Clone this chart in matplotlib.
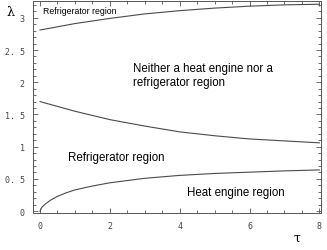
import matplotlib
matplotlib.use("Agg")
import matplotlib.pyplot as plt
import numpy as np
from matplotlib.ticker import MultipleLocator, FixedFormatter, FixedLocator

# Data
tau_top = [0, 1, 2, 3, 4, 5, 6, 7, 8]
lam_top = [2.81, 2.91, 2.99, 3.06, 3.11, 3.15, 3.18, 3.20, 3.21]

tau_mid = [0, 1, 2, 3, 4, 5, 6, 7, 8]
lam_mid = [1.70, 1.55, 1.42, 1.32, 1.23, 1.17, 1.12, 1.09, 1.06]

tau_bot = [0, 0.05, 0.15, 0.3, 0.5, 0.75, 1, 1.5, 2, 3, 4, 5, 6, 7, 8]
lam_bot = [0, 0.06, 0.11, 0.17, 0.23, 0.285, 0.33, 0.39, 0.44, 0.51, 0.555, 0.585, 0.605, 0.625, 0.64]

xticks = [0, 2, 4, 6, 8]
xticklabels = ["0", "2", "4", "6", "8"]
yticks = [0, 0.5, 1, 1.5, 2, 2.5, 3]
yticklabels = ["0", "0. 5", "1", "1. 5", "2", "2. 5", "3"]

fig = plt.figure(figsize=(3.27, 2.51), dpi=100)
ax = fig.add_axes([0.101, 0.147, 0.881, 0.845])

lc = "#4a4a4a"
for x, y in [(tau_top, lam_top), (tau_mid, lam_mid), (tau_bot, lam_bot)]:
    ax.plot(x, y, color=lc, lw=0.8)

ax.set_xlim(-0.2, 8.05)
ax.set_ylim(-0.03, 3.26)

ax.xaxis.set_major_locator(FixedLocator(xticks))
ax.xaxis.set_major_formatter(FixedFormatter(xticklabels))
ax.xaxis.set_minor_locator(MultipleLocator(0.5))
ax.yaxis.set_major_locator(FixedLocator(yticks))
ax.yaxis.set_major_formatter(FixedFormatter(yticklabels))
ax.yaxis.set_minor_locator(MultipleLocator(0.1))

ax.tick_params(which="both", direction="in", top=True, right=True,
               color="#555555", width=0.6)
ax.tick_params(which="major", length=3.5, labelsize=6, pad=6)
ax.tick_params(which="minor", length=2)
for lab in ax.get_xticklabels() + ax.get_yticklabels():
    lab.set_family("DejaVu Sans Mono")
    lab.set_color("#444444")

for s in ax.spines.values():
    s.set_color("#555555")
    s.set_linewidth(0.7)

tf = "Liberation Sans"
ax.text(0.08, 3.115, "Refrigerator region", fontsize=6.3, family=tf, va="center")
ax.text(2.65, 2.11, "Neither a heat engine nor a\nrefrigerator region",
        fontsize=8.3, family=tf, va="center", linespacing=1.2)
ax.text(0.8, 0.84, "Refrigerator region", fontsize=8.3, family=tf, va="center")
ax.text(4.2, 0.30, "Heat engine region", fontsize=8.3, family=tf, va="center")

fig.text(10/327, 1-12/251, "λ", fontsize=9, ha="center", va="center", family="DejaVu Serif")
fig.text(297/327, 1-238/251, "τ", fontsize=9, ha="center", va="center", family="DejaVu Serif")

fig.savefig("out.png", dpi=100)
